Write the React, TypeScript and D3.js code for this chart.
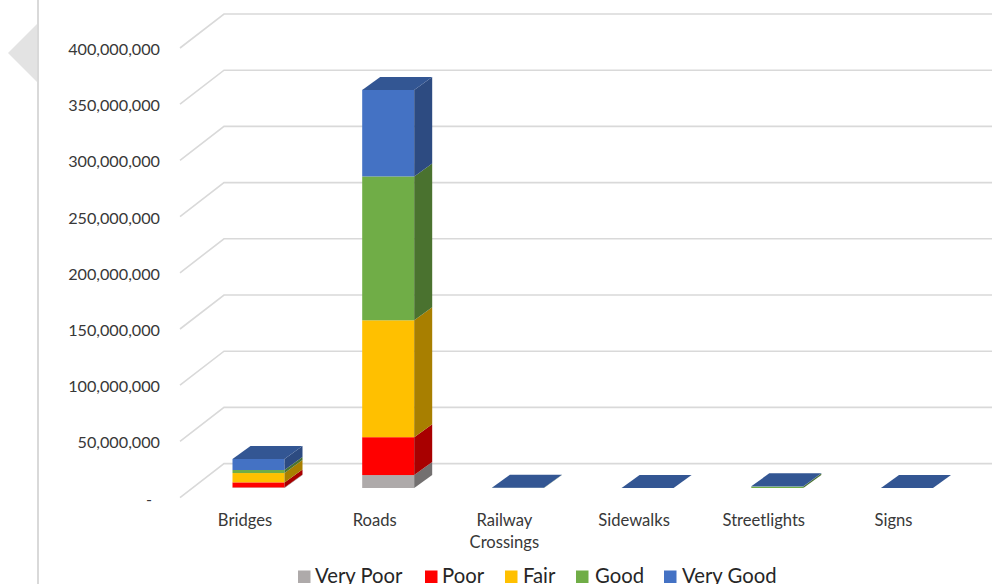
import React from "react";
import * as d3 from "d3";

const categories = ["Bridges", "Roads", "Railway Crossings", "Sidewalks", "Streetlights", "Signs"];
const seriesNames = ["Very Poor", "Poor", "Fair", "Good", "Very Good"];
const seriesColors = ["#aeaaaa", "#ff0000", "#ffc000", "#70ad47", "#4472c4"];
const veryPoor = [500000, 11500000, 0, 0, 0, 0];
const poor = [4500000, 33700000, 0, 0, 0, 0];
const fair = [8300000, 104000000, 0, 0, 0, 0];
const good = [2700000, 128000000, 150000, 50000, 1300000, 50000];
const veryGood = [9800000, 77000000, 50000, 50000, 200000, 50000];
const yTicks = [0, 50000000, 100000000, 150000000, 200000000, 250000000, 300000000, 350000000, 400000000];

const W = 992;
const H = 584;
const FONT = "Lato, Carlito, 'Open Sans', sans-serif";
// Floor depth of the 3D box, and where the bars stand inside it.
const wallX = 180;
const wallDx = 44;
const wallDy = -34;
const barDx = 18;
const barDy = -13;
const barLiftY = -9.6;
const barOffsetX = 13.5;
const barWidth = 52;

const y = d3.scaleLinear().domain([0, 400000000]).range([497.6, 48]);
const x = d3
  .scalePoint<string>()
  .domain(categories)
  .range([245, 893.5]);

const fmt = d3.format(",");
const shade = (c: string, k: number) => {
  const r = d3.rgb(c);
  return d3.rgb(r.r * k, r.g * k, r.b * k).formatHex();
};
const pts = (p: [number, number][]) => p.map((q) => q.join(",")).join(" ");

const rows = categories.map((_, i) => ({
  "Very Poor": veryPoor[i],
  Poor: poor[i],
  Fair: fair[i],
  Good: good[i],
  "Very Good": veryGood[i],
}));
const stacked = d3.stack<any>().keys(seriesNames)(rows);

const legendSwatchX = [298, 425, 505, 576, 664];
const legendTextX = [315, 442, 523, 595, 682];

export default function App() {
  return (
    <svg
      width={W}
      height={H}
      viewBox={`0 0 ${W} ${H}`}
      style={{ position: "absolute", left: 0, top: 0, background: "#fff" }}
      fontFamily={FONT}
    >
      {/* panel edge and collapse tab */}
      <line x1={38} x2={38} y1={0} y2={H} stroke="#d9d9d9" strokeWidth={2} />
      <polygon points="8,53 37,24 37,82" fill="#e3e3e3" />

      {/* gridlines along the side and back walls */}
      {yTicks.map((t) => (
        <polyline
          key={t}
          points={pts([
            [wallX, y(t)],
            [wallX + wallDx, y(t) + wallDy],
            [W, y(t) + wallDy],
          ])}
          fill="none"
          stroke="#d9d9d9"
          strokeWidth={1.6}
        />
      ))}

      {/* value axis labels */}
      {yTicks.map((t) => (
        <text key={t} x={t === 0 ? 152 : 160} y={y(t) + 7} textAnchor="end" fontSize={16.2} fill="#383838">
          {t === 0 ? "-" : fmt(t)}
        </text>
      ))}

      {/* stacked 3D columns */}
      {categories.map((c, ci) =>
        stacked.map((s, si) => {
          const [a, b] = s[ci];
          if (b === a) return null;
          const x0 = (x(c) as number) + barOffsetX - barWidth / 2;
          const x1 = x0 + barWidth;
          const yB = y(a) + barLiftY;
          const yT = y(b) + barLiftY;
          const col = seriesColors[si];
          return (
            <g key={c + si}>
              <rect x={x0} y={yT} width={barWidth} height={yB - yT} fill={col} />
              <polygon
                points={pts([
                  [x1, yB],
                  [x1 + barDx, yB + barDy],
                  [x1 + barDx, yT + barDy],
                  [x1, yT],
                ])}
                fill={shade(col, 0.66)}
              />
            </g>
          );
        })
      )}
      {/* column tops take the colour of the highest series */}
      {categories.map((c, ci) => {
        const x0 = (x(c) as number) + barOffsetX - barWidth / 2;
        const x1 = x0 + barWidth;
        const yT = y(stacked[stacked.length - 1][ci][1]) + barLiftY;
        return (
          <polygon
            key={c}
            points={pts([
              [x0, yT],
              [x1, yT],
              [x1 + barDx, yT + barDy],
              [x0 + barDx, yT + barDy],
            ])}
            fill={shade(seriesColors[4], 0.75)}
          />
        );
      })}

      {/* category labels */}
      {categories.map((c) => {
        const words = c === "Railway Crossings" ? c.split(" ") : [c];
        return (
          <text key={c} textAnchor="middle" fontSize={16.6} fill="#383838">
            {words.map((w, i) => (
              <tspan key={w} x={x(c)} y={526 + i * 22}>
                {w}
              </tspan>
            ))}
          </text>
        );
      })}

      {/* legend */}
      {seriesNames.map((n, i) => (
        <g key={n}>
          <rect x={legendSwatchX[i]} y={570.5} width={12.5} height={12.5} fill={seriesColors[i]} />
          <text x={legendTextX[i]} y={582.5} fontSize={20.3} fill="#262626">
            {n}
          </text>
        </g>
      ))}
    </svg>
  );
}
